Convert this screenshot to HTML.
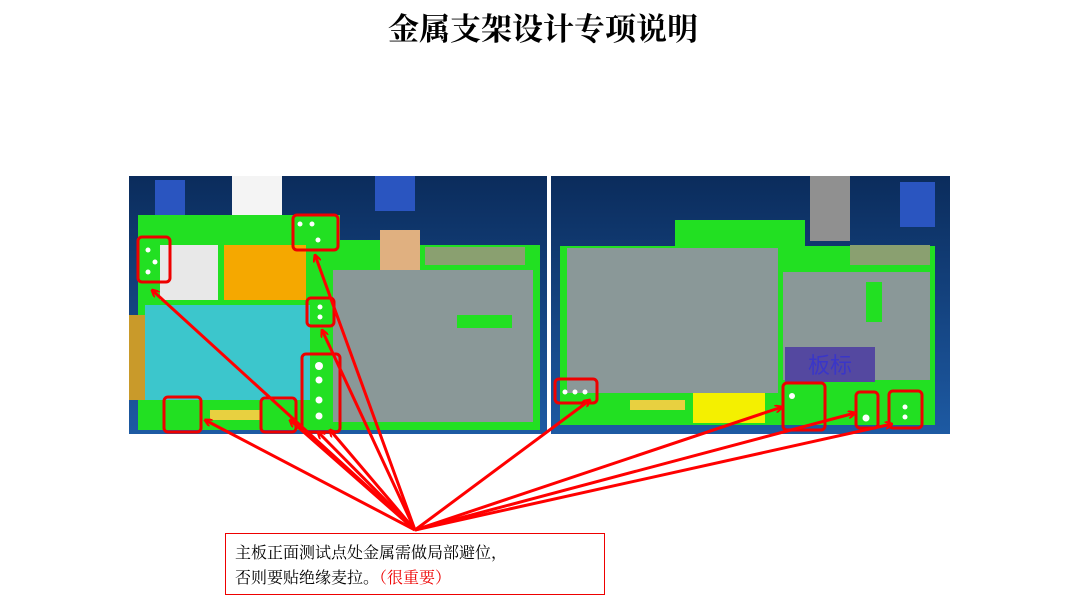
<!DOCTYPE html>
<html><head><meta charset="utf-8"><style>
body{margin:0;width:1080px;height:603px;background:#fff;overflow:hidden;font-family:"Liberation Serif","Noto Serif CJK SC",serif}
svg{position:absolute;left:0;top:0}
</style></head><body>
<svg width="1080" height="603" viewBox="0 0 1080 603">
<defs>
<linearGradient id="bg" x1="0" y1="0" x2="0" y2="1"><stop offset="0" stop-color="#0b2c5c"/><stop offset="1" stop-color="#1d5aa3"/></linearGradient>
<marker id="ah" markerWidth="8" markerHeight="8" refX="7" refY="4" orient="auto" markerUnits="userSpaceOnUse"><path d="M0,0 L8,4 L0,8" fill="none" stroke="#f00" stroke-width="2"/></marker>
</defs>
<text x="543" y="40" font-size="31" font-weight="bold" text-anchor="middle" font-family="Noto Serif CJK SC,serif" fill="#000">金属支架设计专项说明</text>
<!-- left board -->
<rect x="129" y="176" width="418" height="258" fill="url(#bg)"/>
<rect x="155" y="180" width="30" height="40" fill="#2a55c0"/>
<rect x="375" y="176" width="40" height="35" fill="#2a55c0"/>
<rect x="232" y="176" width="50" height="55" fill="#f4f4f4"/>
<path d="M138 215 H290 V215 H340 V240 H420 V245 H540 V430 H138 Z" fill="#22e022"/>
<rect x="160" y="245" width="58" height="55" fill="#e8e8e8"/>
<rect x="224" y="245" width="82" height="55" fill="#f5a800"/>
<rect x="380" y="230" width="40" height="40" fill="#e0b080"/>
<rect x="333" y="270" width="200" height="152" fill="#8a9898"/>
<rect x="457" y="315" width="55" height="13" fill="#22e022"/>
<rect x="129" y="315" width="18" height="85" fill="#c99a2a"/>
<rect x="145" y="305" width="165" height="95" fill="#3cc6cc"/>
<rect x="210" y="410" width="50" height="10" fill="#e8d040"/>
<rect x="425" y="247" width="100" height="18" fill="#8aa070"/>
<g fill="#fff"><circle cx="148" cy="250" r="2.5"/><circle cx="155" cy="262" r="2.5"/><circle cx="148" cy="272" r="2.5"/><circle cx="300" cy="224" r="2.5"/><circle cx="312" cy="224" r="2.5"/><circle cx="318" cy="240" r="2.5"/><circle cx="320" cy="307" r="2.5"/><circle cx="320" cy="317" r="2.5"/><circle cx="319" cy="366" r="4"/><circle cx="319" cy="380" r="3.5"/><circle cx="319" cy="400" r="3.5"/><circle cx="319" cy="416" r="3.5"/></g>
<g fill="none" stroke="#e00" stroke-width="3">
<rect x="138" y="237" width="32" height="45" rx="4"/>
<rect x="293" y="215" width="45" height="35" rx="4"/>
<rect x="307" y="298" width="27" height="28" rx="4"/>
<rect x="302" y="354" width="38" height="78" rx="4"/>
<rect x="164" y="397" width="37" height="35" rx="4"/>
<rect x="261" y="398" width="35" height="34" rx="4"/>
</g>
<!-- right board -->
<rect x="551" y="176" width="399" height="258" fill="url(#bg)"/>
<rect x="810" y="176" width="40" height="65" fill="#909090"/>
<rect x="900" y="182" width="35" height="45" fill="#2a55c0"/>
<path d="M560 246 H675 V220 H805 V246 H935 V425 H560 Z" fill="#22e022"/>
<rect x="567" y="248" width="211" height="145" fill="#8a9898"/>
<rect x="783" y="272" width="147" height="108" fill="#8a9898"/>
<rect x="866" y="282" width="16" height="40" fill="#22e022"/>
<rect x="785" y="347" width="90" height="35" fill="#5448a0"/>
<text x="830" y="373" font-size="22" text-anchor="middle" fill="#3a36c8" font-family="Noto Sans CJK SC,sans-serif">板标</text>
<rect x="693" y="393" width="72" height="30" fill="#f4f000"/>
<rect x="630" y="400" width="55" height="10" fill="#e8d040"/>
<rect x="850" y="245" width="80" height="20" fill="#8aa070"/>
<g fill="#fff"><circle cx="565" cy="392" r="2.5"/><circle cx="575" cy="392" r="2.5"/><circle cx="585" cy="392" r="2.5"/><circle cx="792" cy="396" r="3"/><circle cx="866" cy="418" r="3.5"/><circle cx="905" cy="407" r="2.5"/><circle cx="905" cy="417" r="2.5"/></g>
<g fill="none" stroke="#e00" stroke-width="3">
<rect x="555" y="379" width="42" height="24" rx="4"/>
<rect x="783" y="383" width="42" height="47" rx="4"/>
<rect x="856" y="392" width="22" height="36" rx="4"/>
<rect x="889" y="391" width="33" height="37" rx="4"/>
</g>
<!-- arrows -->
<g stroke="#f00" stroke-width="3" fill="none" marker-end="url(#ah)">
<line x1="415" y1="530" x2="152" y2="290"/>
<line x1="415" y1="530" x2="205" y2="420"/>
<line x1="415" y1="530" x2="290" y2="420"/>
<line x1="415" y1="530" x2="315" y2="255"/>
<line x1="415" y1="530" x2="322" y2="330"/>
<line x1="415" y1="530" x2="318" y2="432"/>
<line x1="415" y1="530" x2="330" y2="430"/>
<line x1="415" y1="530" x2="590" y2="400"/>
<line x1="415" y1="530" x2="782" y2="407"/>
<line x1="415" y1="530" x2="855" y2="413"/>
<line x1="415" y1="530" x2="892" y2="424"/>
</g>
<rect x="225.5" y="533.5" width="379" height="61" fill="#fff" stroke="#e00" stroke-width="1"/>
<text x="235" y="558" font-size="16" font-family="Noto Serif CJK SC,serif" fill="#000">主板正面测试点处金属需做局部避位，</text>
<text x="235" y="583" font-size="16" font-family="Noto Serif CJK SC,serif" fill="#000">否则要贴绝缘麦拉。<tspan fill="#e00">（很重要）</tspan></text>
</svg>
</body></html>
